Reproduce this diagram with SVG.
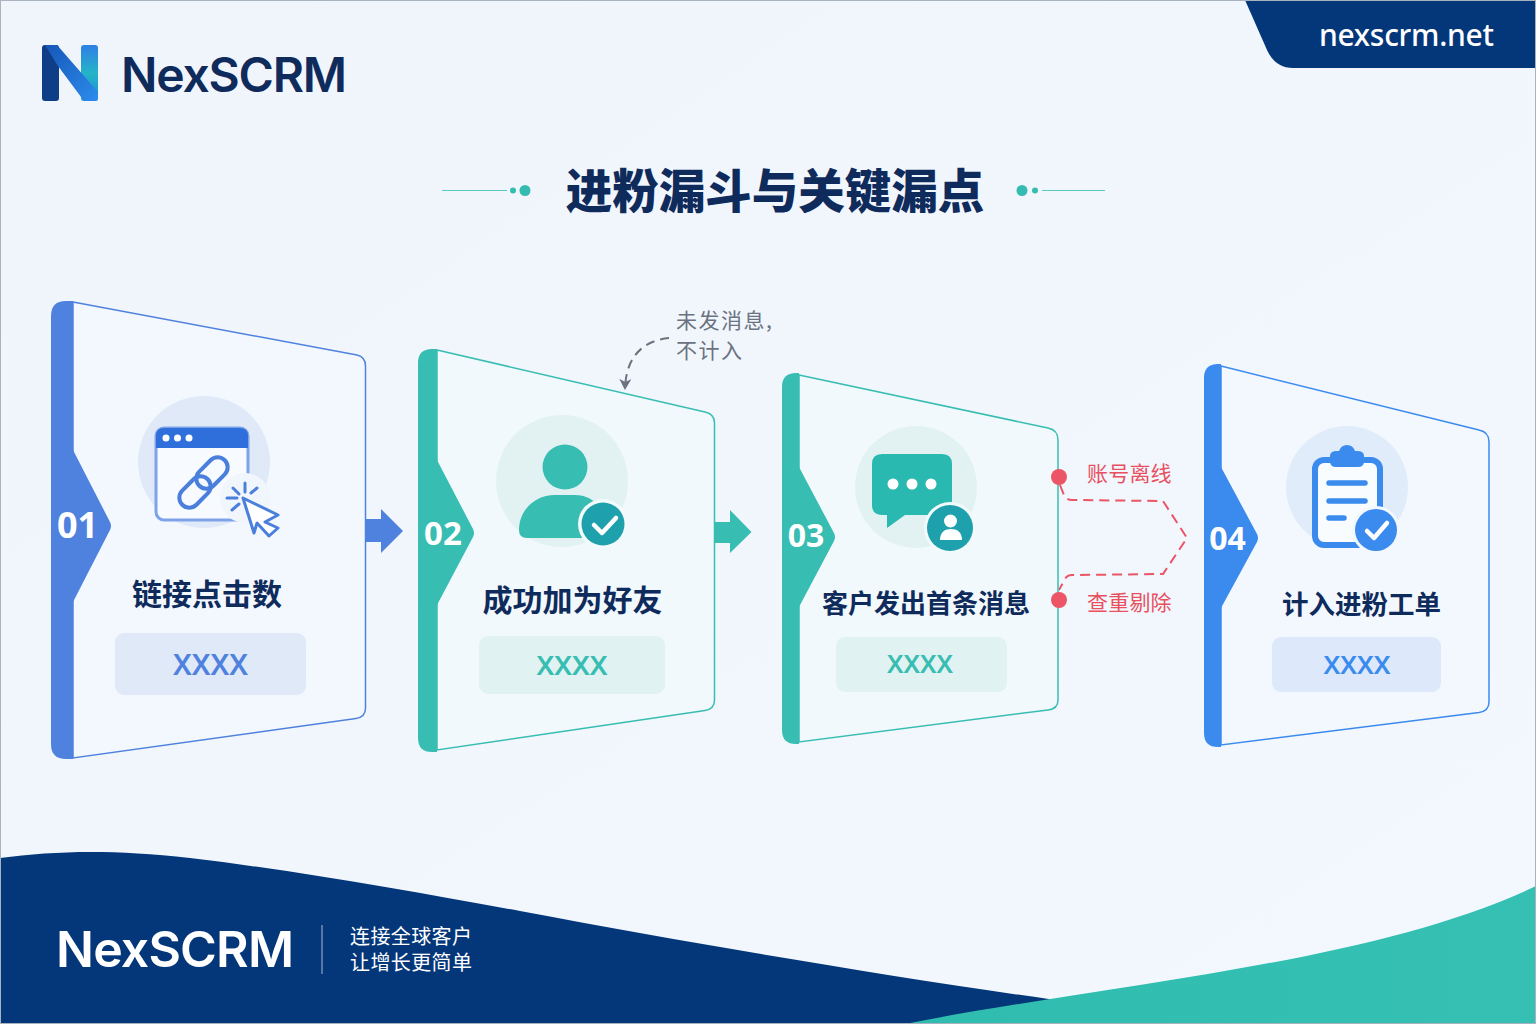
<svg xmlns="http://www.w3.org/2000/svg" width="1536" height="1024" viewBox="0 0 1536 1024">
<style>
text{font-family:"Noto Sans CJK SC","Noto Sans",sans-serif}
.brand{font-family:Inter,"Noto Sans",sans-serif;font-weight:600}
.num{font-family:"Noto Sans","Liberation Sans",sans-serif;font-weight:700;fill:#fff;text-anchor:middle}
.label{font-weight:700;fill:#0f2b5c;text-anchor:middle}
.val{font-family:"Noto Sans","Liberation Sans",sans-serif;font-weight:600;text-anchor:middle}
.note{font-size:21px;fill:#6b7280;letter-spacing:1.500px}
.red{font-size:21px;fill:#e8505f;letter-spacing:.2px}
.white{fill:#fff}
.chk{fill:none;stroke:#fff;stroke-width:4.500;stroke-linecap:round;stroke-linejoin:round}
.blue{fill:#4f82de}.teal{fill:#38bdb2}.sky{fill:#3b8bef}
</style>
<defs>
<linearGradient id="bg" x1="0" y1="0" x2="1" y2="1"><stop offset="0" stop-color="#f0f5fc"/><stop offset="1" stop-color="#f2f8fe"/></linearGradient>
<linearGradient id="logoR" x1="0" y1="0" x2="0" y2="1"><stop offset="0" stop-color="#2f7fe6"/><stop offset=".5" stop-color="#25b4c8"/><stop offset="1" stop-color="#1f8fd8"/></linearGradient>
<linearGradient id="logoD" x1="0" y1="0" x2="1" y2="1"><stop offset="0" stop-color="#1657b8"/><stop offset="1" stop-color="#2c8cec"/></linearGradient>
<linearGradient id="tealG" x1="0" y1="0" x2="1" y2="0"><stop offset="0" stop-color="#2fbdaf"/><stop offset="1" stop-color="#35c0b3"/></linearGradient>
<marker id="noteHead" markerWidth="14" markerHeight="14" refX="10" refY="6" orient="auto" markerUnits="userSpaceOnUse"><path d="M0,0 L11,6 L0,12 L3,6 Z" fill="#6b7280"/></marker>
</defs>
<rect id="background" width="1536" height="1024" fill="url(#bg)"/>
<g id="footer-wave">
<path d="M0,858 C55,851 110,849 190,858 C300,871 420,893 520,911 C700,945 900,978 1055,1000 L1070,1024 L0,1024 Z" fill="#04377a"/>
<path d="M905,1024 C1100,985 1370,965 1536,886 V1024 Z" fill="url(#tealG)"/>
</g>
<g id="domain-tab">
<path d="M1245,0 L1267,50 Q1275,68 1293,68 H1536 V0 Z" fill="#04377a"/>
<text x="1319" y="46" font-size="30" class="white" style="font-family:'Noto Sans',sans-serif;font-weight:500" textLength="175">nexscrm.net</text>
</g>
<g id="logo">
<rect x="42" y="45" width="17" height="56" rx="3" fill="#0e3f86"/>
<rect x="81" y="45" width="17" height="56" rx="3" fill="url(#logoR)"/>
<path d="M45,45 H57 L98,92 V98 Q98,101 95,101 H84 L58,66 Z" fill="url(#logoD)"/>
<text x="121" y="92" font-size="48" class="brand" fill="#0f2b5c" textLength="226">NexSCRM</text>
</g>
<g id="title">
<path d="M442,190.500 H507" stroke="#35bcb0" stroke-opacity=".8" stroke-width="1"/>
<circle cx="513" cy="190.500" r="3" fill="#35bcb0"/><circle cx="525" cy="190.500" r="5.500" fill="#35bcb0"/>
<circle cx="1022" cy="190.500" r="5.500" fill="#35bcb0"/><circle cx="1035" cy="190.500" r="3" fill="#35bcb0"/>
<path d="M1042,190.500 H1105" stroke="#35bcb0" stroke-opacity=".8" stroke-width="1"/>
<text x="775" y="208" font-size="46.500" font-weight="900" fill="#0f2b5c" text-anchor="middle">进粉漏斗与关键漏点</text>
</g>
<g id="connectors">
<path d="M366,519 H381 V509 L403,531 L381,553 V542 H366 Z" fill="#4f82de"/>
<path d="M715,522 H730 V510 L751.500,532 L730,553 V543 H715 Z" fill="#38bdb2"/>
<path d="M669,338 C648,340 626,352 625,389" fill="none" stroke="#6b7280" stroke-width="2" stroke-dasharray="9 6" marker-end="url(#noteHead)"/>
<path d="M1060,485 L1064,495 Q1066,500 1072,500 L1163,501 L1187,538 L1163,574 L1072,575 Q1067,575 1065,579 L1059,590" fill="none" stroke="#ec5566" stroke-width="2" stroke-dasharray="10 6"/>
</g>
<g id="node-01">
<path d="M73,302 L357,355 Q365.500,357 365.500,366 V708 Q365.500,717 356,718.500 L73,758 Z" fill="#f3f8ff" stroke="#4f82de" stroke-width="1.500"/>
<path d="M73,301 H66 Q51,301 51,316 V744 Q51,759 66,759 H73 V602 L110,530 Q112,526 110,522 L73,450 Z" class="blue"/>
<text x="77.500" y="538" font-size="36" class="num">01</text>
<circle cx="204" cy="462" r="66" fill="#e0e9f8"/>
<rect x="156" y="428" width="92" height="92" rx="8" fill="#f7faff" stroke="#7ea3e8" stroke-width="3"/>
<path d="M156,448 V436 Q156,428 164,428 H240 Q248,428 248,436 V448 Z" fill="#2f6fdc"/>
<circle cx="166" cy="438" r="3.500" class="white"/><circle cx="177.500" cy="438" r="3.500" class="white"/><circle cx="189" cy="438" r="3.500" class="white"/>
<g fill="none" stroke="#4a7fdc" stroke-width="4">
<rect x="194" y="463" width="36" height="20" rx="10" transform="rotate(-45 212 473)"/>
<rect x="177" y="482" width="36" height="20" rx="10" transform="rotate(-45 195 492)"/>
</g>
<circle cx="245" cy="498" r="25" fill="#f1f6fd"/>
<g stroke="#4a7fdc" stroke-width="3" stroke-linecap="round">
<path d="M245,483 V492 M233,488 L239,494 M227,498 H237 M232,510 L239,504 M251,493 L257,488"/>
</g>
<path d="M243,498 L278,515 L265,522 L278,528 L269,536 L257,523 L254,533 Z" fill="#fff" stroke="#4a7fdc" stroke-width="3" stroke-linejoin="round"/>
<text x="207" y="605" font-size="30" class="label">链接点击数</text>
<rect x="115" y="633" width="191" height="62" rx="9" fill="#e0e9f8"/>
<text x="210.500" y="675" font-size="29" class="val blue" textLength="75" lengthAdjust="spacingAndGlyphs">XXXX</text>
</g>
<g id="node-02">
<path d="M437,350 L705,412 Q714.500,414 714.500,423 V700 Q714.500,709 705,710.500 L437,750 Z" fill="#f1f9fc" stroke="#38bdb2" stroke-width="1.500"/>
<path d="M437,349 H432 Q418,349 418,363 V738 Q418,752 432,752 H437 V605 L473,537 Q475,533 473,529 L437,460 Z" class="teal"/>
<text x="443" y="545" font-size="33" class="num">02</text>
<circle cx="562" cy="481" r="66" fill="#e2f2f3"/>
<circle cx="565" cy="467" r="22.500" class="teal"/>
<path d="M519,530 C519,510 535,495 555,495 H575 C590,495 605,505 610,530 Q610,538 602,538 H527 Q519,538 519,530 Z" class="teal"/>
<circle cx="603" cy="524" r="25" fill="#f2fafb"/><circle cx="603" cy="524" r="21.500" fill="#1fa0ad"/>
<path d="M594,525 L602,533 L616,518" class="chk"/>
<text x="572.500" y="611" font-size="30" class="label">成功加为好友</text>
<rect x="479" y="636" width="186" height="58" rx="9" fill="#e0f2f2"/>
<text x="572" y="675" font-size="27" class="val teal" textLength="71" lengthAdjust="spacingAndGlyphs">XXXX</text>
</g>
<g id="node-03">
<path d="M799,375 L1048,428 Q1058,430 1058,440 V700 Q1058,709 1048,710 L799,742 Z" fill="#f1f9fc" stroke="#38bdb2" stroke-width="1.500"/>
<path d="M799,373 H796 Q782,373 782,387 V730 Q782,744 796,744 H799 V607 L834,541 Q836,537 834,533 L799,467 Z" class="teal"/>
<text x="806" y="547" font-size="32" class="num">03</text>
<circle cx="916" cy="487" r="61" fill="#e2f2f3"/>
<path d="M882,454 H942 Q952,454 952,464 V505 Q952,515 942,515 H905 L887,528 V515 H882 Q872,515 872,505 V464 Q872,454 882,454 Z" fill="#2ab9b0"/>
<circle cx="893" cy="484" r="5.500" class="white"/><circle cx="912" cy="484" r="5.500" class="white"/><circle cx="931" cy="484" r="5.500" class="white"/>
<circle cx="950" cy="528" r="26" fill="#f2fafb"/><circle cx="950" cy="528" r="23" fill="#1fa0ad"/>
<circle cx="950.500" cy="521" r="6.500" class="white"/>
<path d="M940,540 C940,532 945,529 951,529 C957,529 962,532 962,540 Z" class="white"/>
<text x="926" y="613" font-size="26" class="label">客户发出首条消息</text>
<rect x="836" y="637" width="171" height="55" rx="9" fill="#e0f2f2"/>
<text x="920" y="673" font-size="26" class="val teal" textLength="66" lengthAdjust="spacingAndGlyphs">XXXX</text>
</g>
<g id="node-04">
<path d="M1221,366 L1479,430 Q1489,432 1489,442 V702 Q1489,711 1479,712.500 L1221,745 Z" fill="#f3f8ff" stroke="#3b8bef" stroke-width="1.500"/>
<path d="M1221,364 H1218 Q1204,364 1204,378 V733 Q1204,747 1218,747 H1221 V608 L1257,542 Q1259,538 1257,534 L1221,467 Z" class="sky"/>
<text x="1227.500" y="550" font-size="32" class="num">04</text>
<circle cx="1347" cy="487" r="61" fill="#e0ecfa"/>
<rect x="1315" y="460" width="65" height="85" rx="9" fill="#f9fcff" stroke="#3b8bef" stroke-width="6"/>
<path d="M1336,467 Q1330,467 1330,461 V456 Q1330,451 1337,451 H1339 Q1341,445 1347,445 Q1353,445 1355,451 H1357 Q1364,451 1364,456 V461 Q1364,467 1358,467 Z" class="sky"/>
<g stroke="#3b8bef" stroke-width="5.500" stroke-linecap="round"><path d="M1329,483 H1365 M1329,501 H1365 M1329,518 H1344"/></g>
<circle cx="1376" cy="530" r="24" fill="#f3f8ff"/><circle cx="1376" cy="530" r="21" class="sky"/>
<path d="M1367,531 L1374,538 L1387,523" class="chk"/>
<text x="1361.500" y="614" font-size="26.500" class="label">计入进粉工单</text>
<rect x="1272" y="637" width="169" height="55" rx="9" fill="#dde9fa"/>
<text x="1357" y="674" font-size="26" class="val sky" textLength="67" lengthAdjust="spacingAndGlyphs">XXXX</text>
</g>
<g id="note-uncounted">
<text x="676" y="327.500" class="note">未发消息,</text>
<text x="676" y="358" class="note">不计入</text>
</g>
<g id="reason-offline">
<circle cx="1059" cy="477" r="8" fill="#ec5566"/>
<text x="1087" y="481" class="red">账号离线</text>
</g>
<g id="reason-dedupe">
<circle cx="1059" cy="600" r="8" fill="#ec5566"/>
<text x="1087" y="610" class="red">查重剔除</text>
</g>
<g id="footer-brand">
<text x="56" y="967" font-size="50" class="brand white" textLength="238">NexSCRM</text>
<path d="M322,925 V974" stroke="#fff" stroke-opacity=".55" stroke-width="1.200"/>
<text x="350" y="944" font-size="20" class="white" letter-spacing=".4">连接全球客户</text>
<text x="350" y="970" font-size="20" class="white" letter-spacing=".4">让增长更简单</text>
</g>
<rect id="frame" x=".5" y=".5" width="1535" height="1023" fill="none" stroke="#a9b2bf" stroke-width="1"/>
</svg>
